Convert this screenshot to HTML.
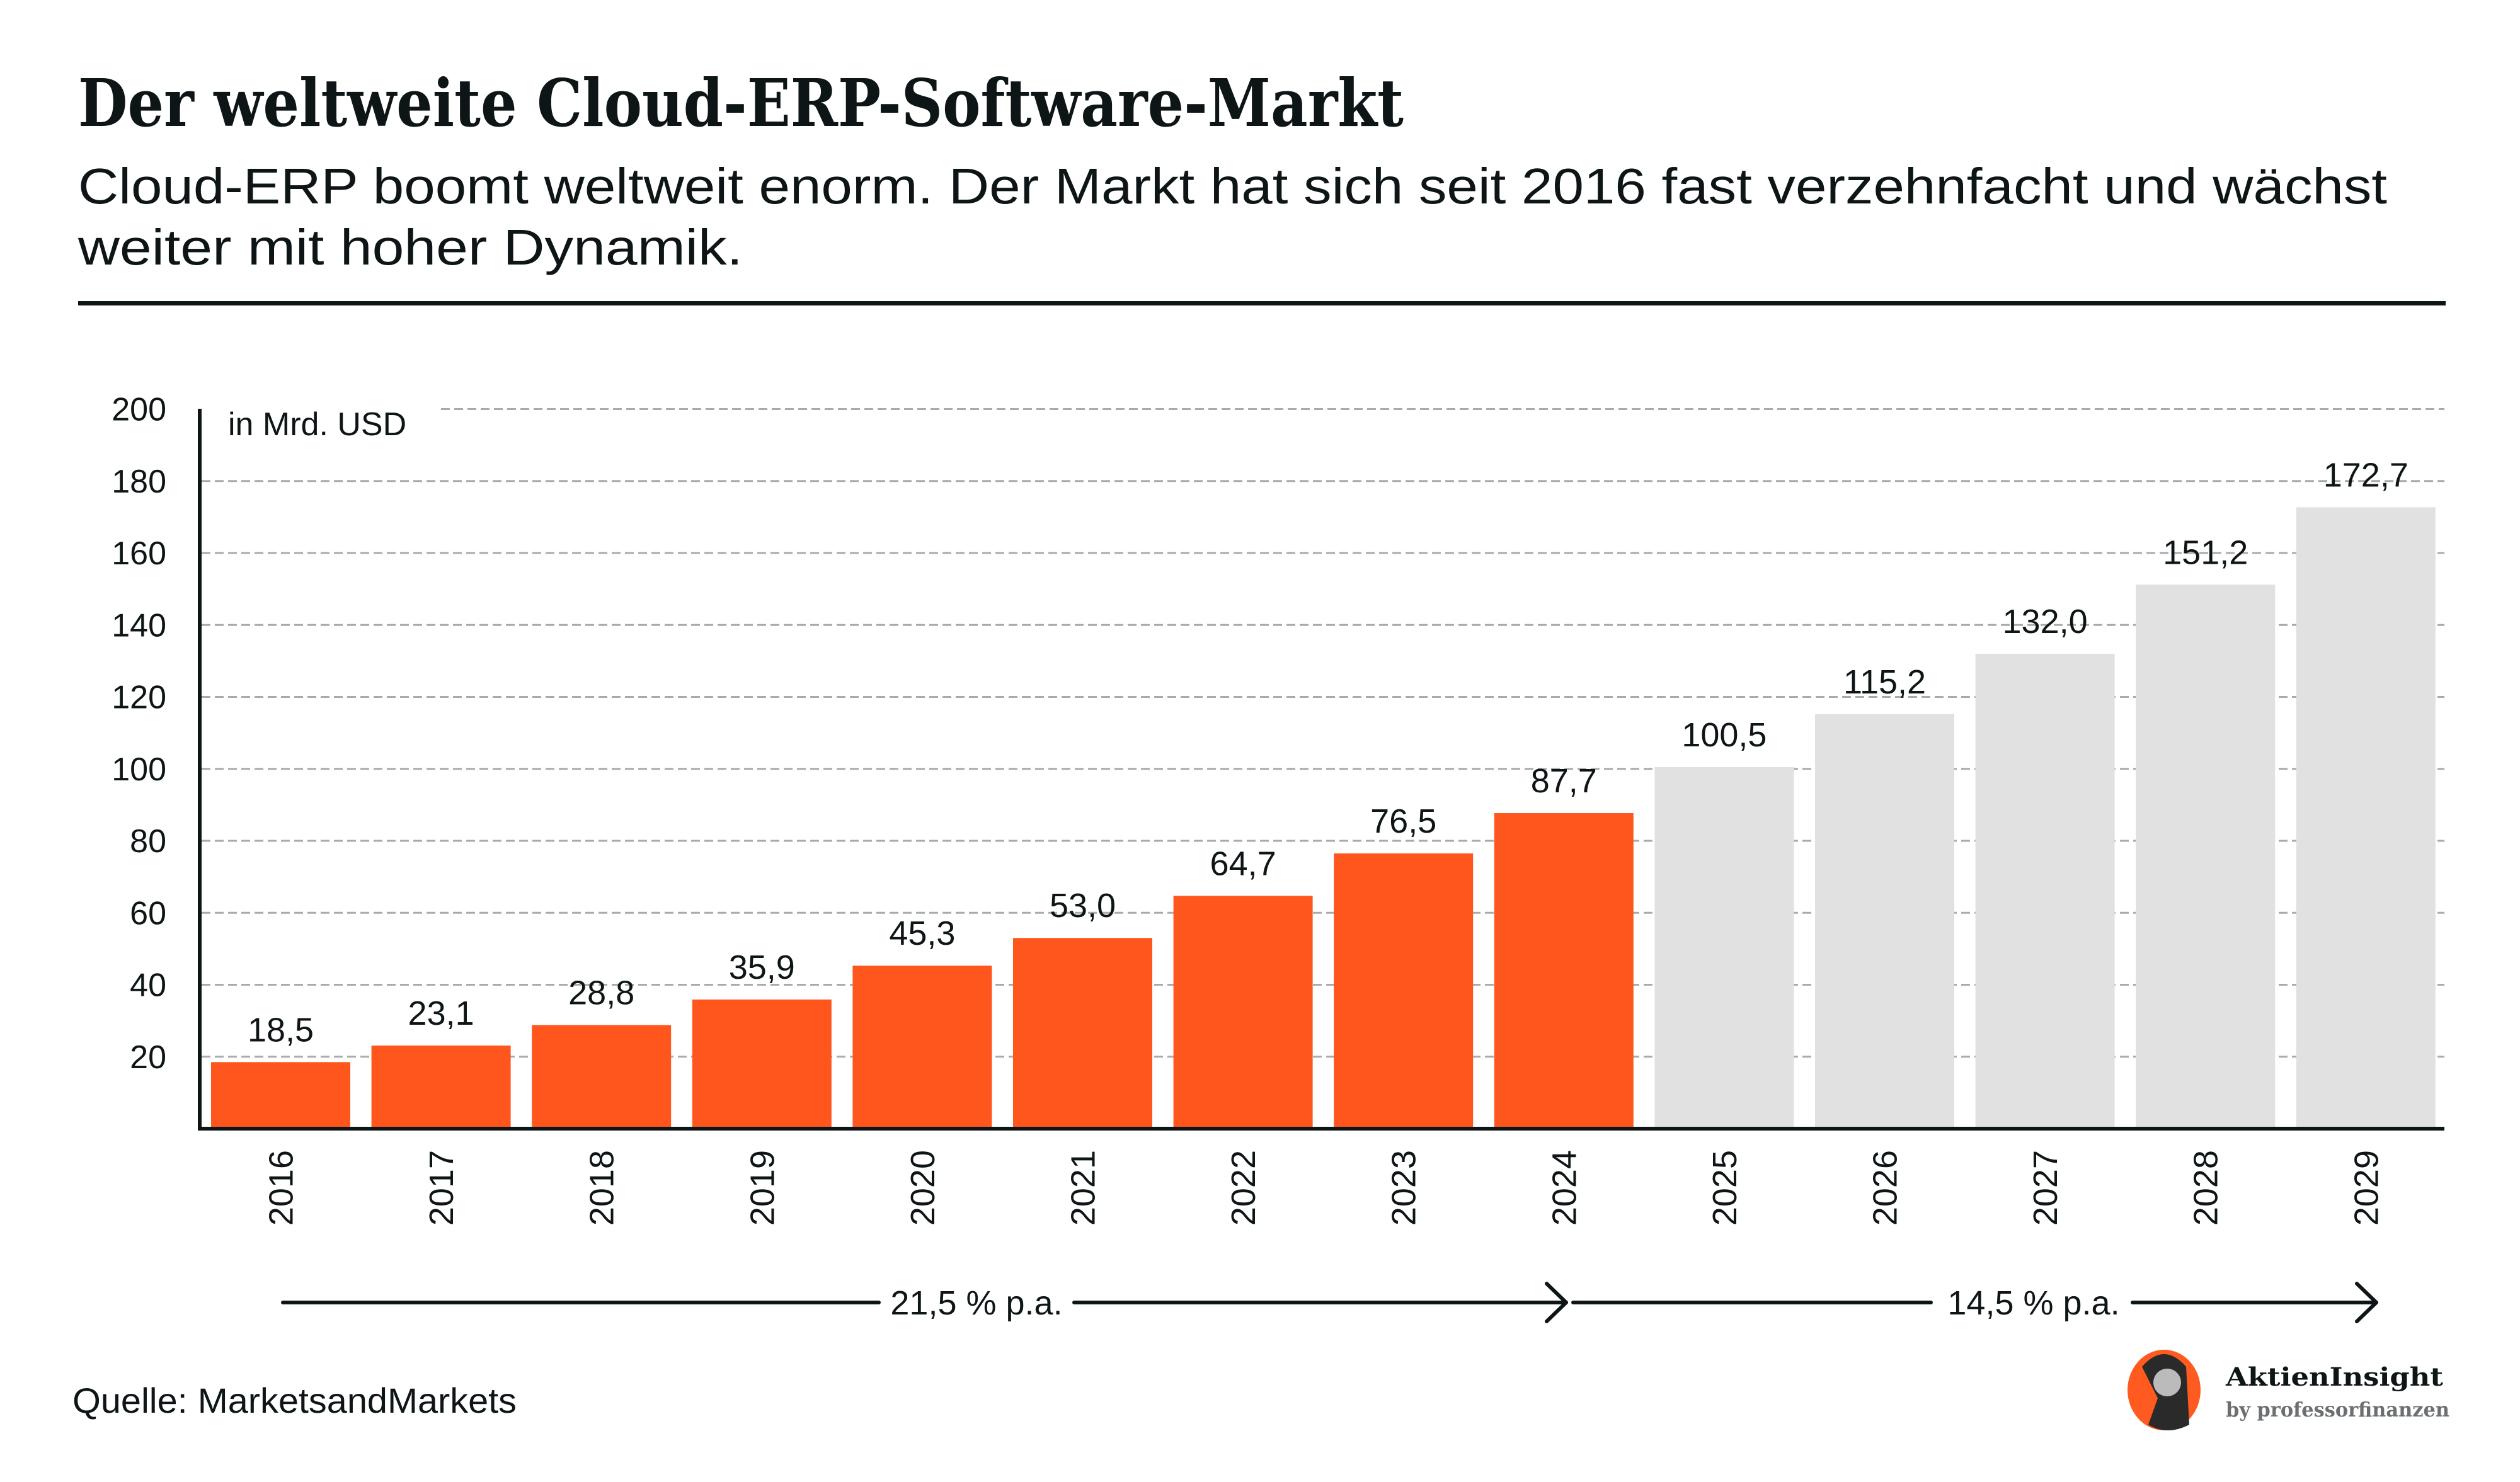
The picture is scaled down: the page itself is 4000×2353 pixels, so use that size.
<!DOCTYPE html>
<html><head><meta charset="utf-8"><style>
html,body{margin:0;padding:0;background:#fff}
svg{display:block}
text{font-family:"Liberation Sans",sans-serif;fill:#0d1516}
</style></head><body>
<svg id="chart" width="4000" height="2353" viewBox="0 0 4000 2353" xmlns="http://www.w3.org/2000/svg">
<rect width="4000" height="2353" fill="#fff"/>
<text x="124" y="200" font-size="104" font-weight="bold" style="font-family:'DejaVu Serif',serif" textLength="2104" lengthAdjust="spacingAndGlyphs">Der weltweite Cloud-ERP-Software-Markt</text>
<text x="124" y="323" font-size="80" textLength="3665" lengthAdjust="spacingAndGlyphs">Cloud-ERP boomt weltweit enorm. Der Markt hat sich seit 2016 fast verzehnfacht und wächst</text>
<text x="124" y="420" font-size="80" textLength="1055" lengthAdjust="spacingAndGlyphs">weiter mit hoher Dynamik.</text>
<rect x="124" y="478" width="3758" height="7" fill="#0d1516"/>
<g id="grid"></g>
<g id="bars"></g>
<g id="labels"></g>
<text x="362" y="691" font-size="52">in Mrd. USD</text>
<rect x="314" y="649" width="6" height="1146" fill="#0d1516"/>
<rect x="314" y="1789" width="3566" height="6" fill="#0d1516"/>
<g stroke="#0d1516" stroke-width="6" fill="none" stroke-linecap="round" stroke-linejoin="round">
<line x1="449" y1="2068" x2="1395" y2="2068"/><line x1="1705" y1="2068" x2="2486" y2="2068"/><polyline points="2455,2038 2486,2068 2455,2098"/>
</g>
<text x="1550" y="2087" font-size="54" text-anchor="middle">21,5 % p.a.</text>
<g stroke="#0d1516" stroke-width="6" fill="none" stroke-linecap="round" stroke-linejoin="round">
<line x1="2497" y1="2068" x2="3065" y2="2068"/><line x1="3385" y1="2068" x2="3772" y2="2068"/><polyline points="3741,2038 3772,2068 3741,2098"/>
</g>
<text x="3228" y="2087" font-size="54" text-anchor="middle">14,5 % p.a.</text>
<text x="115" y="2243" font-size="56" textLength="705" lengthAdjust="spacingAndGlyphs">Quelle: MarketsandMarkets</text>
<g>
<ellipse cx="3435" cy="2207" rx="58" ry="64" fill="#ff5a1f"/>
<path d="M3400,2170 Q3435,2130 3470,2170 L3475,2262 Q3440,2280 3410,2262 L3425,2220 Z" fill="#2a2a2a"/>
<circle cx="3440" cy="2195" r="22" fill="#bbb"/>
</g>
<text x="3533" y="2200" font-size="40" font-weight="bold" style="font-family:'DejaVu Serif',serif" textLength="345" lengthAdjust="spacingAndGlyphs">AktienInsight</text>
<text x="3533" y="2249" font-size="32" font-weight="bold" style="font-family:'DejaVu Serif',serif;fill:#6b6f72" textLength="355" lengthAdjust="spacingAndGlyphs">by professorfinanzen</text>
</svg>
<script>
const years = ["2016","2017","2018","2019","2020","2021","2022","2023","2024","2025","2026","2027","2028","2029"];
const values = [18.5,23.1,28.8,35.9,45.3,53.0,64.7,76.5,87.7,100.5,115.2,132.0,151.2,172.7];
const forecast = [false,false,false,false,false,false,false,false,false,true,true,true,true,true];
const ticks = [20,40,60,80,100,120,140,160,180,200];
const NS="http://www.w3.org/2000/svg";
const y0=1792, yPer=(1792-649.5)/200;
function yS(v){return y0-v*yPer;}
function xS(i){return 335+i*254.6;}
const bw=221;
const grid=document.getElementById('grid'), bars=document.getElementById('bars'), labels=document.getElementById('labels');
ticks.forEach(t=>{
  const l=document.createElementNS(NS,'line');
  l.setAttribute('x1', t===200?700:320);l.setAttribute('x2',3880);
  l.setAttribute('y1',yS(t));l.setAttribute('y2',yS(t));
  l.setAttribute('stroke','#aaaaaa');l.setAttribute('stroke-width','3');l.setAttribute('stroke-dasharray','14 7');
  
  
  grid.appendChild(l);
  const tx=document.createElementNS(NS,'text');
  tx.setAttribute('x',264);tx.setAttribute('y',yS(t)+18);tx.setAttribute('text-anchor','end');tx.setAttribute('font-size','52');
  tx.textContent=t;
  
  
  labels.appendChild(tx);
});
values.forEach((v,i)=>{
  const r=document.createElementNS(NS,'rect');
  r.setAttribute('x',xS(i));r.setAttribute('y',yS(v));r.setAttribute('width',bw);r.setAttribute('height',y0-yS(v));
  r.setAttribute('fill',forecast[i]?'#e1e1e1':'#ff561e');
  
  
  bars.appendChild(r);
  const cx=xS(i)+bw/2;
  const vt=document.createElementNS(NS,'text');
  vt.setAttribute('x',cx);vt.setAttribute('y',yS(v)-33);vt.setAttribute('text-anchor','middle');vt.setAttribute('font-size','54');
  vt.textContent=v.toFixed(1).replace('.',',');
  
  
  labels.appendChild(vt);
  const yt=document.createElementNS(NS,'text');
  yt.setAttribute('transform','translate('+(cx+19)+',1826) rotate(-90)');
  yt.setAttribute('text-anchor','end');yt.setAttribute('font-size','54');
  yt.textContent=years[i];
  
  
  labels.appendChild(yt);
});
</script>
</body></html>
